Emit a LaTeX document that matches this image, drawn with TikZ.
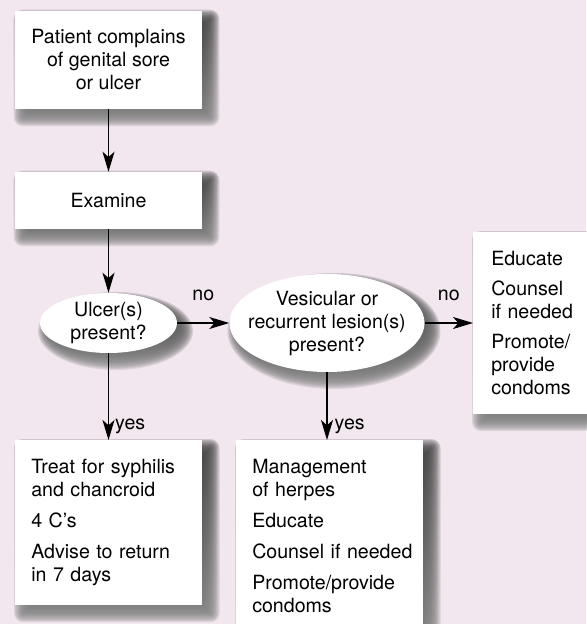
\documentclass[tikz,border=0pt]{standalone}
\usepackage{fontspec}
\setmainfont{TeX Gyre Heros}
\usetikzlibrary{shapes.geometric,arrows.meta,calc,backgrounds}
\definecolor{paper}{RGB}{242,231,239}
\definecolor{shade}{RGB}{140,80,150}

% soft drop shadow under a rectangular node: stacked translucent layers
\newcommand\cardshadow[1]{%
  \foreach \k in {0,...,15}{%
    \pgfmathsetmacro\ee{-9+18*\k/15}%
    \pgfmathsetmacro\rr{max(\ee,0.01)*0.75}%
    \fill[shade, opacity=0.1, rounded corners=\rr pt]
      ($(#1.north west)+(8-\ee,8-\ee)$) rectangle ($(#1.south east)+(8+\ee,8+\ee)$);
  }}
% the same for an elliptic node with radii #2, #3
\newcommand\ovalshadow[3]{%
  \foreach \k in {0,...,15}{%
    \pgfmathsetmacro\ee{-9+18*\k/15}%
    \fill[shade, opacity=0.1]
      ($(#1.center)+(7,8)$) ellipse [x radius=#2+\ee, y radius=#3+\ee];
  }}

\begin{document}
\begin{tikzpicture}[x=0.75pt,y=-0.75pt,
  every node/.style={font=\fontsize{14.7}{17.25}\selectfont},
  card/.style={fill=white, inner sep=0pt},
  titlecard/.style={card, minimum width=140.25pt, align=center},
  listcard/.style={card, anchor=north west, inner xsep=12pt, inner ysep=14.25pt,
      text width=116.25pt, align=left},
  decision/.style={ellipse, fill=white, inner sep=0pt},
  qtext/.style={align=center, inner sep=0pt},
  arrow/.style={-{Stealth[length=15pt,width=9pt,inset=4pt]}, line width=1.1pt},
  tag/.style={inner sep=0pt}]

\useasboundingbox (0,0) rectangle (586,624);

% boxes and decisions
\node[titlecard, minimum height=73.5pt] (complaint) at (108.5,60)
  {Patient complains\\of genital sore\\or ulcer};
\node[titlecard, minimum height=42.75pt] (examine) at (108.5,200.5) {Examine};

\node[decision, minimum width=102.75pt, minimum height=45pt,
  label={[name=ulcertext, qtext]center:Ulcer(s)\\present?}] (ulcer) at (108.5,323) {};
\node[decision, minimum width=146.25pt, minimum height=73.5pt,
  label={[name=vesictext, qtext]center:Vesicular or\\recurrent lesion(s)\\present?}] (vesic) at (327,323) {};

\node[listcard, inner xsep=13.5pt, text width=113.25pt] (educate) at (473,232)
  {Educate\\[5.25pt]Counsel\\if needed\\[5.25pt]Promote/\\provide\\condoms};

\node[listcard] (syph) at (15,440)
  {Treat for syphilis\\and chancroid\\[6pt]4 C’s\\[6pt]Advise to return\\in 7 days};

\node[listcard] (herpes) at (236,440)
  {Management\\of herpes\\[6pt]Educate\\[6pt]\mbox{Counsel if needed}\\[6pt]Promote/provide\\condoms};

% page colour and shadows behind everything
\begin{scope}[on background layer]
  \fill[paper] (0,0) rectangle (586,624);
  \cardshadow{complaint}
  \cardshadow{examine}
  \cardshadow{educate}
  \cardshadow{syph}
  \cardshadow{herpes}
  \ovalshadow{ulcer}{68.5}{30}
  \ovalshadow{vesic}{97.5}{49}
\end{scope}

% connectors
\draw[arrow] (complaint) -- (examine);
\draw[arrow] (examine) -- (ulcer);
\draw[arrow] (ulcer.east) -- node[tag, anchor=base, yshift=17.25pt] (no1) {no} (vesic.west);
\draw[arrow] (vesic.east) -- node[tag, anchor=base, yshift=17.25pt] (no2) {no} (vesic.east -| educate.west);
\draw[arrow] (ulcer.south) -- node[tag, pos=0.88, anchor=base west, xshift=4.5pt] (yes1) {yes} (ulcer.south |- syph.north);
\draw[arrow] (vesic.south) -- node[tag, pos=0.85, anchor=base west, xshift=5.25pt] (yes2) {yes} (vesic.south |- herpes.north);
\end{tikzpicture}
\end{document}
